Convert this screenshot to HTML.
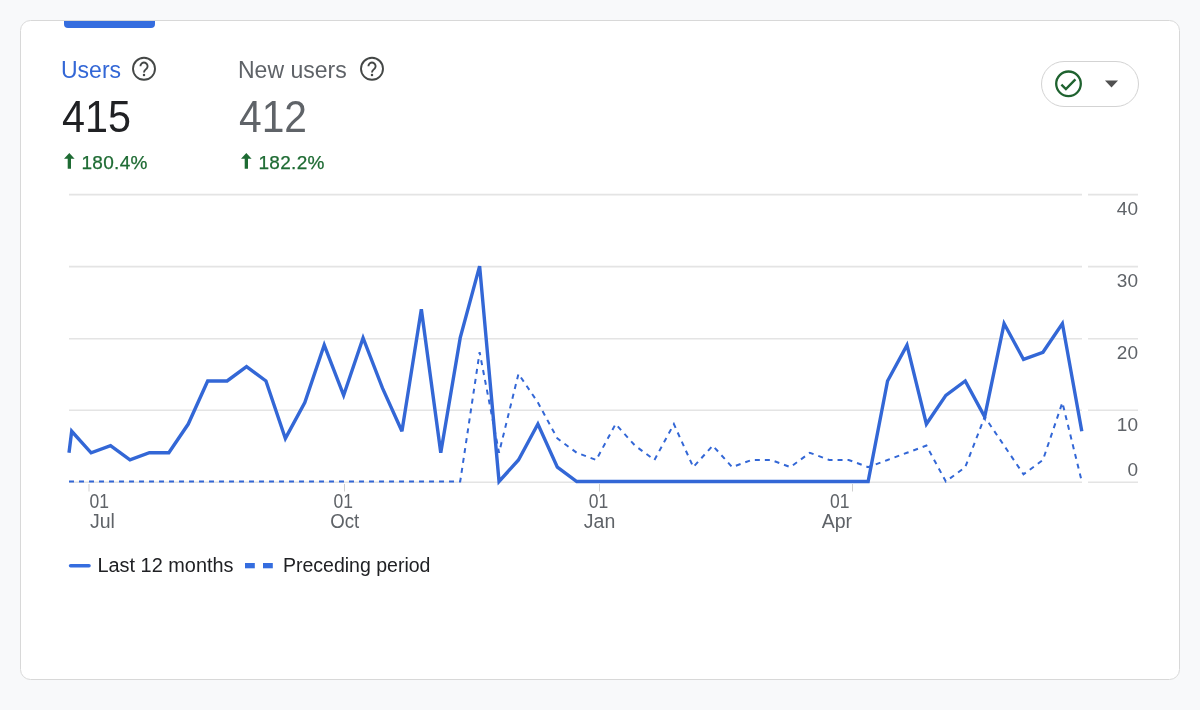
<!DOCTYPE html>
<html><head><meta charset="utf-8"><style>
html,body{margin:0;padding:0;background:#f8f9fa;}
body{width:1200px;height:710px;overflow:hidden;position:relative;font-family:"Liberation Sans",sans-serif;}
svg{position:absolute;left:0;top:0;will-change:transform;}
</style></head><body>
<svg width="1200" height="710" viewBox="0 0 1200 710" font-family="Liberation Sans, sans-serif">
<rect x="20.5" y="20.5" width="1159" height="659" rx="10" ry="10" fill="#ffffff" stroke="#d8d8d8" stroke-width="1"/>
<path d="M64,21 H155 V24 a4,4 0 0 1 -4,4 H68 a4,4 0 0 1 -4,-4 Z" fill="#356ddf"/>
<text x="61" y="78" font-size="23" fill="#3367d6">Users</text>
<circle cx="144" cy="68.8" r="11" fill="none" stroke="#444746" stroke-width="1.9"/><path d="M140.4,66.2 a3.6,3.6 0 1 1 6.4,2.2 c-1.3,1.4 -2.8,1.8 -2.8,4.2" fill="none" stroke="#444746" stroke-width="1.9"/><circle cx="144.0" cy="75.0" r="1.25" fill="#444746"/>
<text x="62" y="131.7" font-size="44" fill="#202124" textLength="69" lengthAdjust="spacingAndGlyphs">415</text>
<text x="238" y="78" font-size="23" fill="#5f6368">New users</text>
<circle cx="372" cy="68.8" r="11" fill="none" stroke="#444746" stroke-width="1.9"/><path d="M368.4,66.2 a3.6,3.6 0 1 1 6.4,2.2 c-1.3,1.4 -2.8,1.8 -2.8,4.2" fill="none" stroke="#444746" stroke-width="1.9"/><circle cx="372.0" cy="75.0" r="1.25" fill="#444746"/>
<text x="239" y="131.7" font-size="44" fill="#5f6368" textLength="68" lengthAdjust="spacingAndGlyphs">412</text>
<path d="M69.3,152.9 L74.6,158.8 L71.0,158.8 L71.0,168.8 L67.7,168.8 L67.7,158.8 L64.0,158.8 Z" fill="#1e6b33"/>
<text x="81.5" y="168.5" font-size="19" fill="#1e6b33" stroke="#1e6b33" stroke-width="0.25" letter-spacing="0.3">180.4%</text>
<path d="M246.3,152.9 L251.6,158.8 L248.0,158.8 L248.0,168.8 L244.7,168.8 L244.7,158.8 L241.0,158.8 Z" fill="#1e6b33"/>
<text x="258.5" y="168.5" font-size="19" fill="#1e6b33" stroke="#1e6b33" stroke-width="0.25" letter-spacing="0.3">182.2%</text>
<rect x="1041.5" y="61.5" width="97" height="45" rx="22.5" fill="#fff" stroke="#d3d3d3"/>
<circle cx="1068.5" cy="83.8" r="12.3" fill="none" stroke="#1f622f" stroke-width="2.3"/>
<path d="M1061.4,84.6 L1065.9,89 L1075.4,79.4" fill="none" stroke="#1f622f" stroke-width="2.4"/>
<path d="M1105,80.5 L1118,80.5 L1111.5,87.5 Z" fill="#505050"/>
<line x1="69" y1="194.6" x2="1082" y2="194.6" stroke="#e4e4e4" stroke-width="1.6"/><line x1="1088" y1="194.6" x2="1138" y2="194.6" stroke="#e4e4e4" stroke-width="1.6"/>
<line x1="69" y1="266.6" x2="1082" y2="266.6" stroke="#e4e4e4" stroke-width="1.6"/><line x1="1088" y1="266.6" x2="1138" y2="266.6" stroke="#e4e4e4" stroke-width="1.6"/>
<line x1="69" y1="338.8" x2="1082" y2="338.8" stroke="#e4e4e4" stroke-width="1.6"/><line x1="1088" y1="338.8" x2="1138" y2="338.8" stroke="#e4e4e4" stroke-width="1.6"/>
<line x1="69" y1="410.2" x2="1082" y2="410.2" stroke="#e4e4e4" stroke-width="1.6"/><line x1="1088" y1="410.2" x2="1138" y2="410.2" stroke="#e4e4e4" stroke-width="1.6"/>
<line x1="69" y1="482.2" x2="1082" y2="482.2" stroke="#e4e4e4" stroke-width="1.6"/><line x1="1088" y1="482.2" x2="1138" y2="482.2" stroke="#e4e4e4" stroke-width="1.6"/>

<g font-size="19" fill="#5f6368" text-anchor="end">
<text x="1138" y="215">40</text>
<text x="1138" y="287">30</text>
<text x="1138" y="359">20</text>
<text x="1138" y="431">10</text>
<text x="1138" y="476">0</text>
</g>
<line x1="89" y1="484" x2="89" y2="491.5" stroke="#cfcfcf"/>
<line x1="344.5" y1="484" x2="344.5" y2="491.5" stroke="#cfcfcf"/>
<line x1="599.5" y1="484" x2="599.5" y2="491.5" stroke="#cfcfcf"/>
<line x1="852.5" y1="484" x2="852.5" y2="491.5" stroke="#cfcfcf"/>
<g font-size="19.5" fill="#5f6368">
<text x="89.5" y="507.8" textLength="19.5" lengthAdjust="spacingAndGlyphs">01</text><text x="90" y="527.8">Jul</text>
<text x="333.5" y="507.8" textLength="19.5" lengthAdjust="spacingAndGlyphs">01</text><text x="344.7" y="527.8" text-anchor="middle" textLength="29" lengthAdjust="spacingAndGlyphs">Oct</text>
<text x="588.7" y="507.8" textLength="19.5" lengthAdjust="spacingAndGlyphs">01</text><text x="599.6" y="527.8" text-anchor="middle">Jan</text>
<text x="830" y="507.8" textLength="19.5" lengthAdjust="spacingAndGlyphs">01</text><text x="852" y="527.8" text-anchor="end">Apr</text>
</g>
<polyline points="69,481.50 71.70,481.50 91.12,481.50 110.55,481.50 129.98,481.50 149.40,481.50 168.82,481.50 188.25,481.50 207.68,481.50 227.10,481.50 246.53,481.50 265.95,481.50 285.38,481.50 304.80,481.50 324.23,481.50 343.65,481.50 363.07,481.50 382.50,481.50 401.93,481.50 421.35,481.50 440.77,481.50 460.20,481.50 479.62,352.26 499.05,452.78 518.48,373.80 537.90,402.52 557.33,438.42 576.75,452.78 596.18,459.96 615.60,424.06 635.03,445.60 654.45,459.96 673.88,424.06 693.30,467.14 712.73,445.60 732.15,467.14 751.58,459.96 771.00,459.96 790.43,467.14 809.85,452.78 829.28,459.96 848.70,459.96 868.13,467.14 887.55,459.96 906.98,452.78 926.40,445.60 945.83,481.50 965.25,467.14 984.68,416.88 1004.10,445.60 1023.53,474.32 1042.95,459.96 1062.38,402.52 1081.80,481.50" fill="none" stroke="#3367d6" stroke-width="2" stroke-dasharray="5,5"/>
<polyline points="69,452.78 71.70,431.24 91.12,452.78 110.55,445.60 129.98,459.96 149.40,452.78 168.82,452.78 188.25,424.06 207.68,380.98 227.10,380.98 246.53,366.62 265.95,380.98 285.38,438.42 304.80,402.52 324.23,345.08 343.65,395.34 363.07,337.90 382.50,388.16 401.93,431.24 421.35,309.18 440.77,452.78 460.20,337.90 479.62,266.10 499.05,481.50 518.48,459.96 537.90,424.06 557.33,467.14 576.75,481.50 596.18,481.50 615.60,481.50 635.03,481.50 654.45,481.50 673.88,481.50 693.30,481.50 712.73,481.50 732.15,481.50 751.58,481.50 771.00,481.50 790.43,481.50 809.85,481.50 829.28,481.50 848.70,481.50 868.13,481.50 887.55,380.98 906.98,345.08 926.40,424.06 945.83,395.34 965.25,380.98 984.68,416.88 1004.10,323.54 1023.53,359.44 1042.95,352.26 1062.38,323.54 1081.80,431.24" fill="none" stroke="#3367d6" stroke-width="3.4" stroke-linejoin="miter" stroke-miterlimit="3"/>
<line x1="70.6" y1="565.8" x2="89" y2="565.8" stroke="#356ddf" stroke-width="3.6" stroke-linecap="round"/>
<text x="97.5" y="571.8" font-size="19.5" fill="#202124" textLength="136" lengthAdjust="spacingAndGlyphs">Last 12 months</text>
<rect x="245" y="563" width="9.8" height="5.3" fill="#356ddf"/>
<rect x="263" y="563" width="9.8" height="5.3" fill="#356ddf"/>
<text x="283" y="572" font-size="19.5" fill="#202124">Preceding period</text>
</svg>
</body></html>
